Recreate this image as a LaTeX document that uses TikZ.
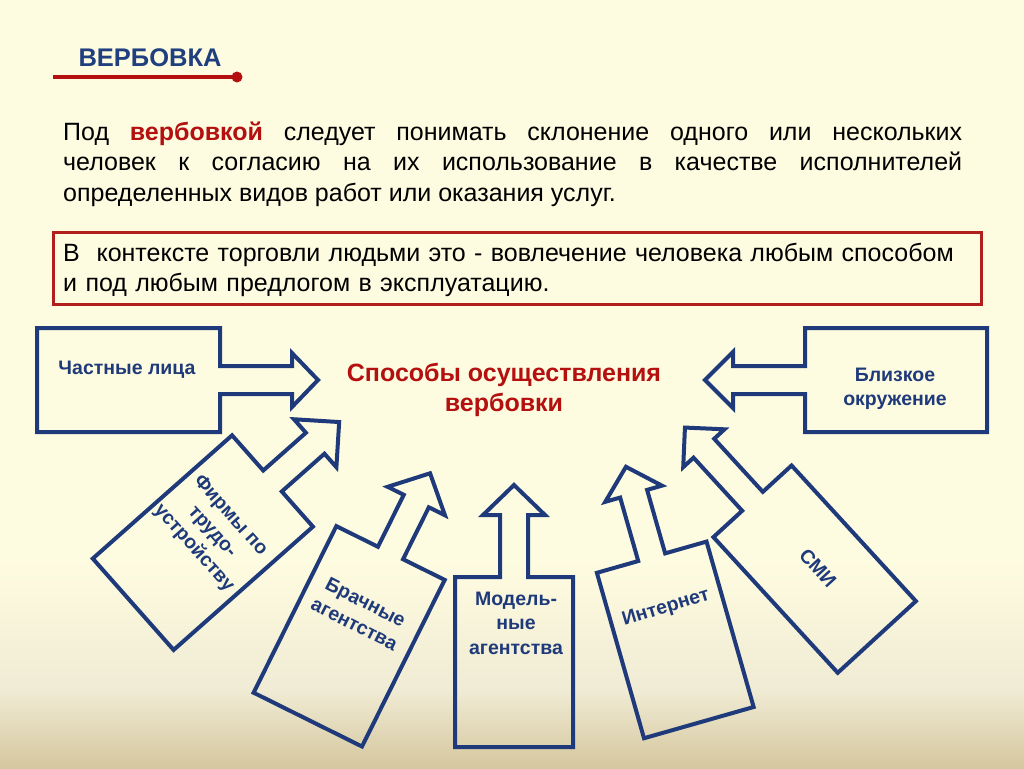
\documentclass[tikz,border=0pt]{standalone}
\usepackage{fontspec}
\setmainfont{Liberation Sans}
\definecolor{bgtop}{RGB}{254,252,224}
\definecolor{bgmid}{RGB}{240,235,212}
\definecolor{bgbot}{RGB}{213,199,158}
\definecolor{navy}{RGB}{31,58,122}
\definecolor{titleblue}{RGB}{31,63,127}
\definecolor{darkred}{RGB}{180,16,16}
\definecolor{boxred}{RGB}{178,30,30}
\newcommand\callout[8]{%
  \draw[calloutline, shift={(#1,#2)}, rotate=#3]
    (-#5,-#4/2) -- (0,-#4/2) -- (0,-14) -- (#6,-14) -- (#6,-#8) -- (#6+#7,0)
    -- (#6,#8) -- (#6,14) -- (0,14) -- (0,#4/2) -- (-#5,#4/2) -- cycle;}
\begin{document}
\begin{tikzpicture}[x=1pt,y=-1pt,
  calloutline/.style={draw=navy, line width=4pt, line join=miter},
  shapetext/.style={font=\fontsize{19.5}{24.5}\selectfont\bfseries, text=navy, align=center, inner sep=0pt},
  bodytext/.style={font=\fontsize{25}{30.5}\selectfont, anchor=base west, inner sep=0pt}]
\useasboundingbox (0,0) rectangle (1024,768);
% background
\fill[bgtop] (0,0) rectangle (1024,561);
\shade[top color=bgtop, bottom color=bgmid] (0,560) rectangle (1024,691);
\shade[top color=bgmid, bottom color=bgbot] (0,690) rectangle (1024,768);
% title
\node[font=\fontsize{25.5}{28}\selectfont\bfseries, text=titleblue] (title) at (150,58) {ВЕРБОВКА};
\coordinate (l0) at (53,77);
\node[circle, fill=darkred, inner sep=0pt, minimum size=11pt] (dot) at (237,77) {};
\draw[line width=3.5pt, darkred] (l0) -- (dot.center);
% definition
\node[bodytext, text width=899pt, align=justify] (def) at (63,140)
 {Под {\bfseries\color{darkred}вербовкой} следует понимать склонение одного или нескольких\linebreak
  человек к согласию на их использование в качестве исполнителей\linebreak
  определенных видов работ или оказания услуг.};
% context box
\node[draw=boxred, line width=3pt, fill=bgtop, anchor=north west, minimum width=928pt, minimum height=72pt, inner sep=0pt] (box) at (52,231) {};
\node[bodytext, text width=910pt, align=left] (ctx) at (63,261)
 {В\ \ контексте торговли людьми это - вовлечение человека любым способом\\
  и под любым предлогом в эксплуатацию.};
% central
\node[font=\fontsize{25}{30}\selectfont\bfseries, text=darkred, align=center] (ways) at (504,390)
 {Способы осуществления\\вербовки};
% callouts
\callout{220}{380}{0}{104}{183}{72}{26}{27}
\callout{805}{380}{180}{104}{182}{72}{28}{28}
\callout{272.5}{481}{41.5}{122}{186}{57}{32}{32}
\callout{390.5}{553}{63.6}{121}{186}{58}{31}{32}
\callout{514}{577}{90}{118}{170}{62}{30}{31}
\callout{651.7}{557.2}{105.9}{114}{172}{66}{28}{29.5}
\callout{752.5}{501.3}{132.5}{106}{184}{72}{28}{28}
% callout texts
\node[shapetext] (t1) at (127,370) {Частные лица};
\node[shapetext] (t2) at (895,389) {Близкое\\окружение};
\node[shapetext, rotate=-48] (t3) at (212,532) {Фирмы по\\трудо-\\устройству};
\node[shapetext, rotate=-27] (t4) at (360,613) {Брачные\\агентства};
\node[shapetext] (t5) at (516,623) {Модель-\\ные\\агентства};
\node[shapetext, rotate=17] (t6) at (666,608) {Интернет};
\node[shapetext, rotate=-47.5] (t7) at (818,568) {СМИ};
\end{tikzpicture}
\end{document}
